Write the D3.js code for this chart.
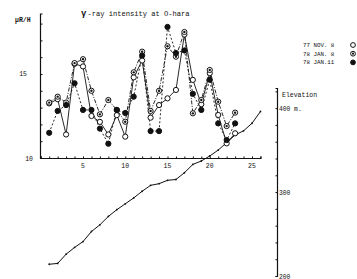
<!DOCTYPE html>
<html><head><meta charset="utf-8">
<script src="https://cdn.jsdelivr.net/npm/d3@7"></script>
<style>body{margin:0;background:#fff}svg{display:block}text{font-family:"Liberation Mono","DejaVu Sans Mono",monospace;fill:#111}</style>
</head><body><svg id="c" width="357" height="279"></svg>
<script>
const stations = [1,2,3,4,5,6,7,8,9,10,11,12,13,14,15,16,17,18,19,20,21,22,23];
const nov8  = [13.25,13.5,11.4,15.6,15.45,12.5,12.15,11.4,12.55,11.27,14.8,15.8,12.4,13.15,13.55,14.05,17.35,14.65,13.2,15.05,12.56,10.87,11.47];
const jan8  = [13.3,13.65,13.3,15.65,15.88,14.0,12.6,13.45,12.86,12.16,15.1,16.33,12.8,14.0,16.65,16.03,17.5,12.66,13.45,15.24,13.35,11.9,12.7];
const jan11 = [11.5,12.8,13.15,14.45,12.86,12.86,11.75,10.85,12.86,12.68,13.65,16.1,11.6,11.6,17.8,16.25,16.4,13.82,12.86,14.66,12.06,11.07,12.06];
const elevStations = [1,2,3,4,5,6,7,8,9,10,11,12,13,14,15,16,17,18,19,20,21,22,23,24,25,26];
const elevation = [214,215,226,234,241,253,261,271,279,286,293,301,308,310,314,315,323,333,337,343,350,359,368,373,382,396];
const xTickLabels = [5,10,15,20,25];
const yTickLabels = [10,15];
const elevTickLabels = [200,300,400];
const legendLabels = ["77 NOV. 8","78 JAN. 8","78 JAN.11"];

const svg = d3.select("#c");
const x = d3.scaleLinear().domain([0,26]).range([40.75,260.45]);
const y = d3.scaleLinear().domain([10,18.6]).range([158,13.5]);
const ye = d3.scaleLinear().domain([200,424]).range([276,88]);
const ink = "#111";

// left axis
const gy = svg.append("g").attr("transform","translate(40,0)")
  .call(d3.axisRight(y).tickValues(d3.range(10,19,1)).tickSize(2.5).tickFormat(""));
gy.select(".domain").attr("stroke",ink).attr("stroke-width",1.2);
gy.selectAll(".tick line").attr("stroke",ink);
svg.selectAll(".ylab").data(yTickLabels).enter().append("text")
  .attr("x",d=>d===10?33:27).attr("y",d=>y(d)+2.5).attr("text-anchor","end")
  .attr("font-size",6.5).text(d=>d);
svg.append("text").attr("x",15).attr("y",22).attr("font-size",6.5).attr("font-weight","bold").text("μR/H");

// bottom axis
const gx = svg.append("g").attr("transform","translate(0,158)")
  .call(d3.axisTop(x).tickValues(d3.range(0,27,1)).tickSize(1.5).tickFormat(""));
gx.select(".domain").attr("stroke",ink).attr("stroke-width",1.2);
gx.selectAll(".tick line").attr("stroke",ink);
svg.selectAll(".xlab").data(xTickLabels).enter().append("text")
  .attr("x",d=>x(d)).attr("y",167.5).attr("text-anchor","middle").attr("font-size",6.5).text(d=>d);

// title
const t = svg.append("text").attr("x",81).attr("y",16).attr("font-size",7.1);
t.append("tspan").attr("font-weight","bold").attr("font-size",9).text("γ");
t.append("tspan").attr("dx",1).text("-ray intensity at O-hara");

// elevation axis
const ge = svg.append("g").attr("transform","translate(277,0)")
  .call(d3.axisLeft(ye).tickValues(d3.range(200,421,20)).tickSize(1.5).tickFormat(""));
ge.select(".domain").attr("stroke",ink).attr("stroke-width",1.2);
ge.selectAll(".tick line").attr("stroke",ink);
svg.selectAll(".elab").data(elevTickLabels).enter().append("text")
  .attr("x",279).attr("y",d=>ye(d)+2.5).attr("font-size",6.3)
  .text(d=>d===400?"400 m.":d);
svg.append("text").attr("x",282).attr("y",97).attr("font-size",6.5).text("Elevation");

// elevation line
const eData = elevStations.map((s,i)=>[s,elevation[i]]);
svg.append("path").datum(eData).attr("fill","none").attr("stroke",ink).attr("stroke-width",1)
  .attr("d",d3.line().x(d=>x(d[0])).y(d=>ye(d[1])));
svg.selectAll(".edot").data(eData).enter().append("circle")
  .attr("cx",d=>x(d[0])).attr("cy",d=>ye(d[1])).attr("r",0.9).attr("fill",ink);

// series
const series = [
  {name:legendLabels[0], vals:nov8, dash:null, kind:"open"},
  {name:legendLabels[1], vals:jan8, dash:"4,1.5,1,1.5", kind:"dot"},
  {name:legendLabels[2], vals:jan11, dash:"2,2", kind:"fill"}
];
const line = d3.line().x(d=>x(d[0])).y(d=>y(d[1]));
series.forEach(s=>{
  const data = stations.map((st,i)=>[st,s.vals[i]]);
  svg.append("path").datum(data).attr("fill","none").attr("stroke",ink).attr("stroke-width",0.9)
    .attr("stroke-dasharray",s.dash).attr("d",line);
});
function marker(g,cx,cy,kind,r){
  g.append("circle").attr("cx",cx).attr("cy",cy).attr("r",r)
    .attr("fill",kind==="fill"?ink:"#fff").attr("stroke",ink).attr("stroke-width",1);
  if(kind==="dot"){
    g.append("circle").attr("cx",cx).attr("cy",cy).attr("r",r*0.45).attr("fill",ink);
  }
}
series.forEach(s=>{
  const g = svg.append("g");
  stations.forEach((st,i)=>marker(g,x(st),y(s.vals[i]),s.kind,2.6));
});

// legend
series.forEach((s,i)=>{
  const ly = 45 + i*8.7;
  svg.append("text").attr("x",303).attr("y",ly+2).attr("font-size",5.8).text(s.name);
  marker(svg.append("g"),353,ly,s.kind,2.4);
});
</script></body></html>
